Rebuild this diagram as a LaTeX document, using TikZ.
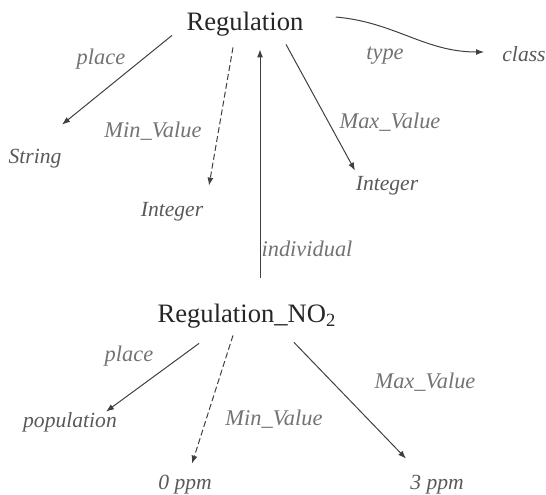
\documentclass[tikz,border=0pt]{standalone}
\usepackage{fontspec}
\setmainfont{Liberation Serif}[ItalicFont={Liberation Serif Italic}]
\usetikzlibrary{arrows.meta,positioning}

\begin{document}
\begin{tikzpicture}[x=0.5pt,y=-0.5pt,
    concept/.style={inner sep=1pt,text=black!85,font=\fontsize{13.3}{15}\selectfont,text height=9pt,text depth=3pt},
    literal/.style={inner sep=1pt,text=black!65,font=\fontsize{10.8}{13}\selectfont\itshape,text height=7pt,text depth=2pt},
    prop/.style={inner sep=1pt,text=black!55,font=\fontsize{11.2}{13}\selectfont\itshape},
    arr/.style={-{Latex[length=4pt,width=3pt]},draw=black!75,line width=0.5pt}]
    \useasboundingbox (0,0) rectangle (546,494);

    % Class level
    \node[concept] (reg) at (245,24) {Regulation};
    \node[literal] (str) at (35,158) {String};
    \node[literal] (intmin) at (172,211) {Integer};
    \node[literal] (intmax) at (387,185) {Integer};
    \node[literal] (cls) at (524,56) {class};

    \node[prop] (placeA) at (101,59) {place};
    \node[prop] (minA) at (153,131) {Min\_Value};
    \node[prop] (maxA) at (390,122) {Max\_Value};
    \node[prop] (typeA) at (385,56) {type};

    \draw[arr] ([shift={(-73,-3)}]reg.south) -- ([shift={(27,-22)}]str.north);
    \draw[arr,dash pattern=on 3pt off 1.5pt] ([shift={(-12,9)}]reg.south) -- ([shift={(37,-14)}]intmin.north);
    \draw[arr] ([shift={(41,6)}]reg.south) -- ([shift={(-32,-3)}]intmax.north);
    \draw[arr] ([shift={(30,-7)}]reg.east) to[out=-5,in=180] ([shift={(-16,-4)}]cls.west);

    % Individual level
    \node[concept] (regno) at (247,316) {Regulation\_NO\textsubscript{2}};
    \node[literal] (pop) at (70,422) {population};
    \node[literal] (zero) at (185,484) {0 ppm};
    \node[literal] (three) at (437,484) {3 ppm};

    \node[prop] (indiv) at (307,249) {individual};
    \node[prop] (placeB) at (129,356) {place};
    \node[prop] (minB) at (274,419) {Min\_Value};
    \node[prop] (maxB) at (425,382) {Max\_Value};

    \draw[arr] ([shift={(13,-24)}]regno.north) -- ([shift={(15,11)}]reg.south);
    \draw[arr] ([shift={(-48,13)}]regno.south) -- ([shift={(36,1)}]pop.north);
    \draw[arr,dash pattern=on 3pt off 1.5pt] ([shift={(-14,5)}]regno.south) -- ([shift={(7,-9)}]zero.north);
    \draw[arr] ([shift={(47,12)}]regno.south) -- ([shift={(-31,-14)}]three.north);
\end{tikzpicture}
\end{document}
